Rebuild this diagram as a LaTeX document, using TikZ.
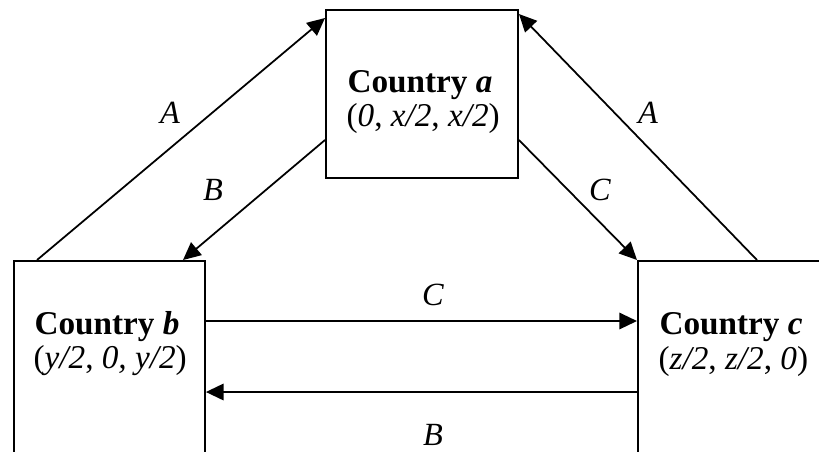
\documentclass[tikz,border=0pt]{standalone}
\usepackage{fontspec}
\setmainfont{Liberation Serif}
\usetikzlibrary{arrows.meta,calc}
\begin{document}
\begin{tikzpicture}[x=0.34pt,y=-0.34pt,
  box/.style={draw,line width=0.65pt,inner sep=0pt,anchor=north west},
  conn/.style={line width=0.6pt,-{Triangle[length=6pt,width=5.6pt]}},
  lbl/.style={font=\fontsize{11}{12}\selectfont\itshape,inner sep=1pt},
  txt/.style={font=\fontsize{11.3}{13}\selectfont,inner sep=0pt,anchor=west}]
\useasboundingbox (0,0) rectangle (819,451);
\clip (0,0) rectangle (819,451);
% boxes
\node[box,minimum width=65.28pt,minimum height=57.12pt] (a) at (325,9) {};
\node[box,minimum width=64.94pt,minimum height=88.4pt] (b) at (13,260) {};
\node[box,minimum width=102pt,minimum height=88.4pt] (c) at (637,260) {};
% texts
\node[txt] (at) at (347,85) {\textbf{Country \textit{a}}};
\node[txt] (ax) at (346,118) {(\textit{0}, \textit{x/2}, \textit{x/2})};
\node[txt] (bt) at (34,327) {\textbf{Country \textit{b}}};
\node[txt] (bx) at (33,361) {(\textit{y/2}, \textit{0, y/2})};
\node[txt] (ct) at (659,327) {\textbf{Country \textit{c}}};
\node[txt] (cx) at (658,361) {(\textit{z/2}, \textit{z/2}, \textit{0})};
% connectors
\draw[conn] ($(b.north west)+(24,0)$) -- ($(a.north west)+(0,9)$);
\draw[conn] ($(a.north west)+(0,131)$) -- ($(b.north west)+(170,0)$);
\draw[conn] ($(a.north east)+(0,131)$) -- (c.north west);
\draw[conn] ($(c.north west)+(120,0)$) -- ($(a.north east)+(0,5)$);
\draw[conn] ($(b.north east)+(0,61)$) -- ($(c.north west)+(0,61)$);
\draw[conn] ($(c.north west)+(0,132)$) -- ($(b.north east)+(0,132)$);
% labels
\node[lbl] (l1) at (170,113) {A};
\node[lbl] (l2) at (213,190) {B};
\node[lbl] (l3) at (600,190) {C};
\node[lbl] (l4) at (648,113) {A};
\node[lbl] (l5) at (433,295) {C};
\node[lbl] (l6) at (433,435) {B};
\end{tikzpicture}
\end{document}
